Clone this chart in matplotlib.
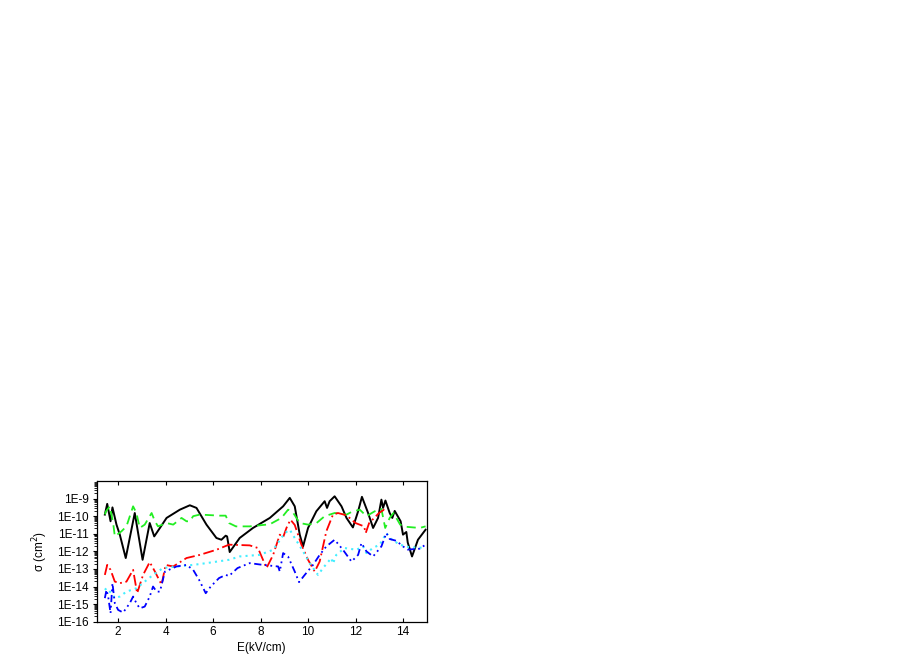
import numpy as np
import matplotlib.pyplot as plt
from matplotlib.ticker import FixedLocator, LogLocator, NullFormatter

plt.rcParams['font.family'] = ['Liberation Sans', 'DejaVu Sans']

# black solid curve
e_black = [1.44, 1.54, 1.68, 1.76, 1.93, 2.07, 2.32, 2.70, 3.03, 3.33, 3.52, 3.76, 4.04, 4.60,
           5.02, 5.30, 5.72, 6.14, 6.35, 6.53, 6.59, 6.70, 7.12, 7.68, 8.39, 8.95, 9.23, 9.44,
           9.65, 9.79, 10.0, 10.35, 10.70, 10.80, 10.91, 11.12, 11.41, 11.62, 11.89, 12.11,
           12.27, 12.53, 12.74, 12.95, 13.09, 13.16, 13.26, 13.44, 13.55, 13.65, 13.90, 14.0,
           14.14, 14.2, 14.38, 14.63, 14.95]
lg_black = [-9.91, -9.30, -10.29, -9.50, -10.48, -11.05, -12.38, -9.82, -12.48, -10.39, -11.15,
            -10.67, -10.10, -9.63, -9.38, -9.53, -10.48, -11.24, -11.34, -11.11, -11.15, -12.04,
            -11.24, -10.67, -10.10, -9.44, -8.96, -9.44, -11.05, -11.72, -10.67, -9.72, -9.15,
            -9.53, -9.15, -8.87, -9.44, -10.10, -10.64, -9.72, -8.90, -9.82, -10.67, -10.10,
            -9.06, -9.53, -9.11, -9.82, -10.10, -9.70, -10.29, -11.05, -10.90, -11.5, -12.29,
            -11.34, -10.77]

# green dashed curve
e_green = [1.44, 1.49, 1.65, 1.79, 1.86, 2.14, 2.35, 2.63, 2.77, 2.91, 3.12, 3.41, 3.55, 3.68,
           4.04, 4.32, 4.67, 4.88, 5.02, 5.16, 5.44, 6.28, 6.53, 6.67, 6.96, 7.54, 8.39, 8.88,
           9.16, 9.37, 9.65, 10.0, 10.35, 10.70, 11.12, 11.62, 11.83, 12.18, 12.46, 12.81,
           13.09, 13.25, 13.44, 13.6, 13.72, 13.88, 14.1, 14.7, 14.95]
lg_green = [-9.9, -9.72, -9.44, -10.39, -11.15, -10.86, -10.58, -9.44, -9.82, -10.67, -10.48,
            -9.82, -10.29, -10.58, -10.39, -10.48, -10.10, -10.29, -10.29, -10.0, -9.91, -9.97,
            -9.97, -10.39, -10.58, -10.58, -10.46, -10.10, -9.63, -9.80, -10.39, -10.48, -10.40,
            -10.0, -9.82, -9.91, -9.76, -9.63, -10.0, -9.72, -9.59, -10.67, -10.10, -9.82,
            -10.10, -10.48, -10.60, -10.67, -10.58]

# red dash-dot curve
e_red = [1.44, 1.54, 1.68, 1.86, 2.07, 2.35, 2.63, 2.80, 3.05, 3.33, 3.55, 3.83, 4.0, 4.32,
         4.88, 5.44, 6.14, 6.67, 7.54, 7.89, 8.25, 8.53, 8.81, 8.95, 9.09, 9.26, 9.44, 9.72,
         10.0, 10.28, 10.49, 10.77, 11.05, 11.26, 11.62, 12.0, 12.36, 12.43, 12.57, 12.99,
         13.2, 13.35]
lg_red = [-13.34, -12.77, -13.05, -13.72, -13.81, -13.72, -13.05, -14.38, -13.34, -12.61,
          -13.15, -13.90, -12.77, -12.86, -12.38, -12.20, -11.91, -11.62, -11.66, -11.81,
          -12.95, -12.20, -11.05, -11.20, -10.67, -10.20, -10.50, -11.62, -12.48, -13.15,
          -12.58, -10.86, -9.91, -9.82, -9.95, -10.39, -10.58, -10.96, -10.40, -9.82, -9.63,
          -9.70]

# cyan dotted curve
e_cyan = [1.44, 1.51, 1.72, 1.86, 2.07, 2.35, 2.77, 3.12, 3.47, 3.89, 4.46, 5.16, 5.72, 6.67,
          7.12, 7.96, 8.53, 9.02, 9.23, 9.44, 9.79, 10.07, 10.42, 10.63, 10.98, 11.05, 11.19,
          11.54, 12.04, 12.32, 12.46, 12.74, 13.02, 13.3, 13.5, 13.86, 14.28, 14.95]
lg_cyan = [-14.19, -14.10, -14.38, -14.66, -14.57, -14.29, -14.10, -13.72, -13.34, -12.95,
           -12.86, -12.77, -12.67, -12.48, -12.29, -12.20, -11.91, -10.96, -10.77, -11.24,
           -12.0, -12.67, -13.34, -12.95, -12.38, -12.70, -12.20, -11.81, -11.91, -11.72,
           -12.10, -11.80, -11.62, -10.96, -11.30, -11.62, -11.77, -11.80]

# blue dash-dot-dot curve
e_blue = [1.44, 1.51, 1.58, 1.68, 1.76, 1.86, 2.0, 2.21, 2.49, 2.63, 2.77, 2.91, 3.12, 3.33,
          3.47, 3.62, 3.76, 3.97, 4.46, 4.88, 5.16, 5.41, 5.69, 5.9, 6.25, 6.53, 6.67, 7.03,
          7.54, 8.1, 8.74, 8.81, 8.95, 9.16, 9.44, 9.62, 9.86, 10.21, 10.49, 10.77, 11.12,
          11.47, 11.83, 12.11, 12.25, 12.46, 12.74, 13.09, 13.3, 13.44, 13.72, 14.0, 14.2,
          14.7, 14.95]
lg_blue = [-14.66, -14.19, -14.57, -15.52, -13.81, -14.95, -15.33, -15.48, -14.95, -14.57,
           -14.95, -15.24, -15.14, -14.57, -14.0, -14.29, -14.29, -13.15, -12.86, -12.77,
           -13.05, -13.62, -14.38, -14.0, -13.52, -13.34, -13.40, -12.95, -12.67, -12.77,
           -12.86, -13.15, -12.10, -12.30, -13.15, -13.75, -13.34, -12.77, -12.20, -11.72,
           -11.34, -11.91, -12.58, -12.20, -11.53, -12.0, -12.29, -11.72, -10.96, -11.30,
           -11.40, -11.72, -11.90, -11.85, -11.62]

fig = plt.figure(figsize=(9.13, 6.64), dpi=100)
ax = fig.add_axes([0.106, 0.0637, 0.3614, 0.2119])

ax.plot(e_black, 10.0 ** np.array(lg_black), color='black', lw=1.4, ls='-')
ax.plot(e_green, 10.0 ** np.array(lg_green), color='#22ee22', lw=1.3, ls=(0, (5, 3)))
ax.plot(e_red, 10.0 ** np.array(lg_red), color='red', lw=1.3, ls=(0, (6, 2, 1, 2)))
ax.plot(e_cyan, 10.0 ** np.array(lg_cyan), color='#44eeff', lw=1.5, ls=(0, (1, 2)))
ax.plot(e_blue, 10.0 ** np.array(lg_blue), color='blue', lw=1.3, ls=(0, (4, 2, 1, 2, 1, 2)))

ax.set_yscale('log')
ax.set_xlim(1.1, 15)
ax.set_ylim(1e-16, 1e-8)

y_exp = [-16, -15, -14, -13, -12, -11, -10, -9]
ax.yaxis.set_major_locator(FixedLocator([10.0 ** k for k in y_exp]))
ax.set_yticklabels(['1E%d' % k for k in y_exp])
ax.yaxis.set_minor_locator(LogLocator(base=10, subs=np.arange(2, 10), numticks=20))
ax.yaxis.set_minor_formatter(NullFormatter())
ax.set_xticks([2, 4, 6, 8, 10, 12, 14])

ax.tick_params(axis='both', which='major', labelsize=8.5, length=3, width=0.8)
ax.tick_params(axis='x', direction='in', top=True, pad=3)
ax.tick_params(axis='y', which='both', direction='out')
ax.tick_params(axis='y', which='minor', length=2, width=0.6)
ax.tick_params(axis='y', pad=3)

for s in ax.spines.values():
    s.set_linewidth(0.9)

ax.set_xlabel('E(kV/cm)', fontsize=8.5, labelpad=3)
ax.set_ylabel('σ (cm$^2$)', fontsize=8.5, labelpad=5)

fig.savefig('out.png', dpi=100)
